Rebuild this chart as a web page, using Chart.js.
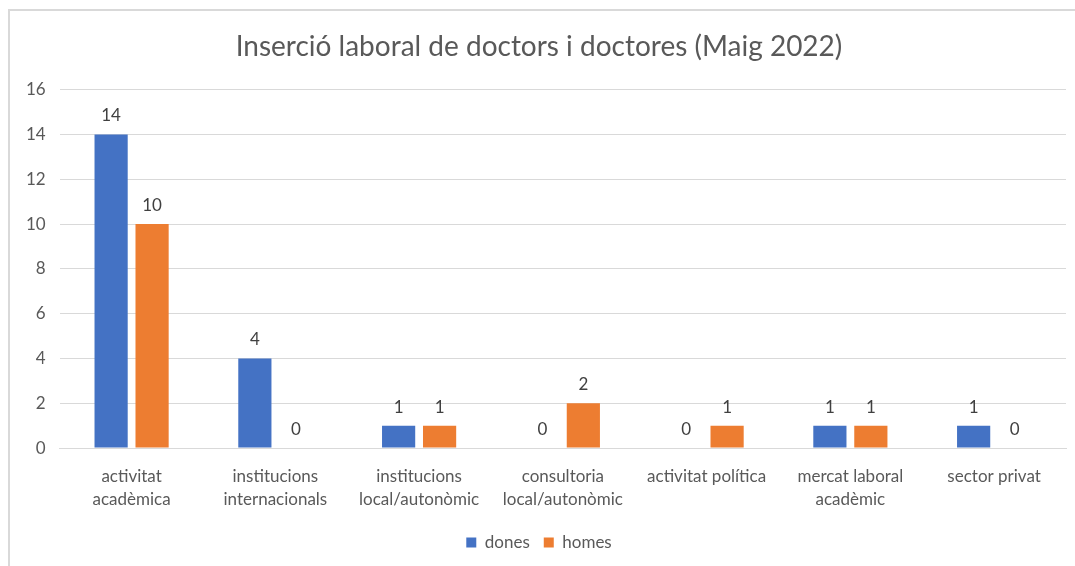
<!DOCTYPE html>
<html>
<head>
<meta charset="utf-8">
<script src="https://cdn.jsdelivr.net/npm/chart.js@4"></script>
<style>
  body { margin: 0; background: #fff; }
  #wrap {
    position: absolute; left: 8px; top: 9px; width: 1067px; height: 557px;
    border-top: 2px solid #d9d9d9; border-left: 2px solid #d9d9d9;
    box-sizing: border-box;
  }
</style>
</head>
<body>
<div id="wrap"><canvas id="chart"></canvas></div>
<script>
// categories and values
const categories = [
    ['activitat', 'acadèmica'],
    ['institucions', 'internacionals'],
    ['institucions', 'local/autonòmic'],
    ['consultoria', 'local/autonòmic'],
    'activitat política',
    ['mercat laboral', 'acadèmic'],
    'sector privat'
];
const dones = [14, 4, 1, 0, 0, 1, 1];
const homes = [10, 0, 1, 2, 1, 1, 0];
const yTicks = [0, 2, 4, 6, 8, 10, 12, 14, 16];

const fontFamily = 'Lato, "Open Sans", sans-serif';
const textColor = '#595959';

// draws the value above each bar (no datalabels plugin available)
const valueLabels = {
    id: 'valueLabels',
    afterDatasetsDraw(chart) {
        const ctx = chart.ctx;
        ctx.save();
        ctx.font = '17px ' + fontFamily;
        ctx.fillStyle = '#404040';
        ctx.textAlign = 'center';
        ctx.textBaseline = 'bottom';
        chart.data.datasets.forEach(function (ds, i) {
            chart.getDatasetMeta(i).data.forEach(function (bar, j) {
                ctx.fillText(ds.data[j], bar.x, bar.y - 10);
            });
        });
        ctx.restore();
    }
};

const ctx = document.getElementById('chart').getContext('2d');
new Chart(ctx, {
    type: 'bar',
    data: {
        labels: categories,
        datasets: [
            {
                label: 'dones',
                data: dones,
                backgroundColor: '#4472c4',
                barPercentage: 0.81,
                categoryPercentage: 0.57
            },
            {
                label: 'homes',
                data: homes,
                backgroundColor: '#ed7d31',
                barPercentage: 0.81,
                categoryPercentage: 0.57
            }
        ]
    },
    options: {
        responsive: true,
        maintainAspectRatio: false,
        animation: false,
        layout: { padding: { left: 2, right: 9, top: 13, bottom: 5 } },
        plugins: {
            title: {
                display: true,
                text: 'Inserció laboral de doctors i doctores (Maig 2022)',
                color: textColor,
                font: { family: fontFamily, size: 28, weight: 'normal' },
                padding: { top: 6, bottom: 26 }
            },
            legend: {
                position: 'bottom',
                labels: {
                    color: textColor,
                    font: { family: fontFamily, size: 17 },
                    boxWidth: 10,
                    boxHeight: 10,
                    padding: 14
                }
            },
            tooltip: { enabled: false }
        },
        scales: {
            x: {
                grid: { display: false },
                border: { color: '#d9d9d9', width: 1 },
                ticks: {
                    color: textColor,
                    font: { family: fontFamily, size: 17, lineHeight: 1.35 },
                    maxRotation: 0,
                    autoSkip: false,
                    padding: 9
                }
            },
            y: {
                min: 0,
                max: 16,
                afterBuildTicks: function (axis) {
                    axis.ticks = yTicks.map(function (v) { return { value: v }; });
                },
                grid: { color: '#d9d9d9', drawTicks: false },
                border: { display: false },
                ticks: {
                    color: textColor,
                    font: { family: fontFamily, size: 17 },
                    padding: 14
                }
            }
        }
    },
    plugins: [valueLabels]
});
</script>
</body>
</html>
